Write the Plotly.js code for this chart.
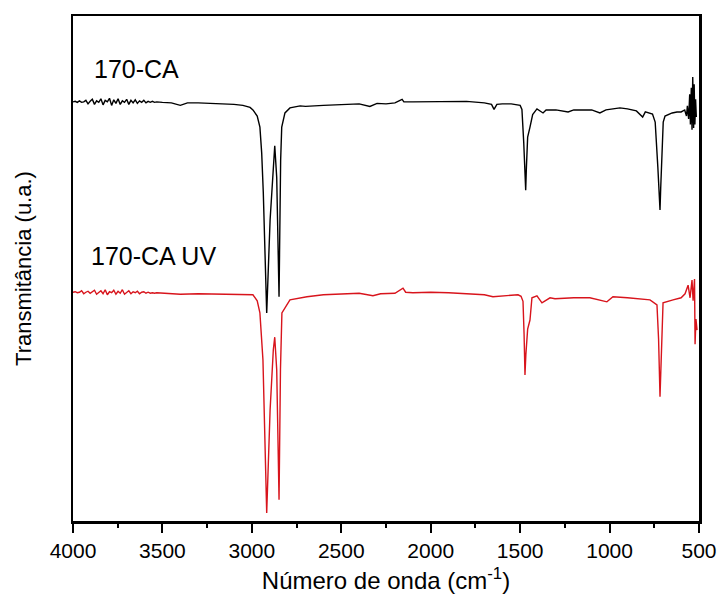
<!DOCTYPE html>
<html>
<head>
<meta charset="utf-8">
<script src="https://cdn.plot.ly/plotly-3.0.1.min.js"></script>
<style>html,body{margin:0;padding:0;background:#fff;}#chart{width:720px;height:602px;}</style>
</head>
<body>
<div id="chart"></div>
<script>
// Wavenumbers (cm-1) and transmittance (a.u.)
const waveBlack = [4000,3988,3976,3964,3952,3940,3928,3916,3904,3892,3880,3868,3856,3844,3832,3820,3808,3796,3784,3772,3760,3748,3736,3724,3712,3700,3688,3676,3664,3652,3640,3628,3616,3604,3592,3580,3568,3556,3544,3532,3500,3450,3400,3360,3300,3200,3100,3050,3010,
  2994,2970,2955,2945,2936,2927,2917,2898,2880,2872,2861,2852,2848,2839,2833,2815,2787,2730,2700,2600,2500,2400,2340,2300,2250,2200,2160,2150,2100,2000,1900,1800,1700,1660,1646,1630,1600,1550,1500,
  1490,1480,1472,1469,1465,1458,1445,1430,1406,1390,1372,1355,1300,1232,1200,1100,1054,1020,942,900,850,815,800,760,745,730,722,718,714,706,700,690,650,623,600,580,570,565,558,552,548,543,539,535,530,527,523,519,515];
const transBlack = [83.0,83.1,82.9,83.2,82.9,83.0,83.3,82.6,83.1,83.5,82.5,83.2,82.9,83.6,82.4,83.3,83.0,83.7,82.3,83.4,82.7,83.6,82.5,83.2,82.9,83.5,82.5,83.3,82.8,83.4,82.7,83.2,82.9,83.3,82.8,83.1,82.9,83.1,82.9,83.0,82.9,82.8,82.3,82.8,82.8,82.7,82.5,82.3,81.9,
  81.4,80.2,78.0,72.9,65.0,53.0,41.2,59.6,71.5,74.3,68.0,51.7,44.4,71.5,78.0,80.8,81.8,82.2,82.1,82.3,82.5,82.6,82.1,82.7,82.6,82.8,83.5,83.0,83.0,83.0,83.1,83.1,82.8,82.5,81.5,82.5,82.6,82.6,82.3,
  81.5,75.0,66.5,65.5,70.0,76.0,78.0,80.5,81.6,81.2,80.8,81.4,81.4,81.0,81.4,81.4,80.8,81.4,81.8,81.6,81.2,80.0,81.0,80.6,79.0,70.0,64.0,61.6,66.0,76.0,79.0,80.2,80.8,81.0,81.0,81.4,80.2,82.2,79.6,84.5,78.5,85.8,77.5,87.9,77.8,86.5,78.5,83.5,80.0];

const waveRed = [4000,3988,3976,3964,3952,3940,3928,3916,3904,3892,3880,3868,3856,3844,3832,3820,3808,3796,3784,3772,3760,3748,3736,3724,3712,3700,3688,3676,3664,3652,3640,3628,3616,3604,3592,3580,3568,3556,3544,3532,3500,3450,3400,3300,3200,3100,3050,3010,
  2994,2970,2955,2938,2928,2917,2898,2880,2872,2861,2852,2848,2840,2832,2787,2692,2600,2500,2400,2323,2280,2200,2155,2140,2100,2000,1948,1900,1800,1700,1652,1600,1512,
  1495,1484,1478,1473,1468,1458,1445,1434,1406,1378,1333,1305,1200,1110,1015,981,900,774,735,726,718,710,701,645,600,578,561,550,539,533,525,522,517,511];
const transRed = [45.3,45.4,45.2,45.3,45.6,45.0,45.3,45.5,45.1,45.4,45.7,44.9,45.3,45.6,45.0,45.8,44.8,45.4,45.2,45.7,44.9,45.5,45.1,45.8,44.9,45.3,45.6,45.0,45.4,45.2,45.5,45.0,45.3,45.4,45.1,45.3,45.1,45.2,45.1,45.2,45.1,45.0,44.9,45.0,44.9,44.9,44.8,44.8,
  44.8,43.6,41.2,31.9,18.6,1.6,22.0,33.9,36.4,29.9,12.1,4.2,30.0,41.2,43.8,44.4,44.8,45.0,45.1,44.6,45.0,45.1,46.1,45.3,45.2,45.3,45.3,45.2,45.0,44.8,44.4,44.6,44.8,
  44.5,43.5,37.0,28.9,33.0,38.0,39.8,44.2,44.6,43.2,44.2,44.0,44.2,44.2,43.4,44.4,44.2,43.8,42.8,36.0,24.6,33.0,43.2,43.8,44.2,45.0,46.7,44.2,47.7,43.6,47.9,35.0,40.0,37.8];

const labelBlack = "170-CA";
const labelRed = "170-CA UV";
const xTicks = [4000,3500,3000,2500,2000,1500,1000,500];

const font = "Liberation Sans, Arial, sans-serif";

const data = [
  {x: waveBlack, y: transBlack, type: "scatter", mode: "lines", name: labelBlack,
   line: {color: "#000000", width: 1.4}},
  {x: waveRed, y: transRed, type: "scatter", mode: "lines", name: labelRed,
   line: {color: "#d8141c", width: 1.4}}
];

const layout = {
  width: 720, height: 602,
  margin: {l: 73, r: 21, t: 16, b: 81},
  paper_bgcolor: "#ffffff", plot_bgcolor: "#ffffff",
  showlegend: false,
  font: {family: font, color: "#000"},
  xaxis: {
    range: [4000, 500], tickvals: xTicks, ticktext: xTicks.map(String),
    ticks: "outside", ticklen: 9, tickwidth: 2, tickcolor: "#000",
    minor: {dtick: 250, tick0: 0, ticks: "outside", ticklen: 4, tickwidth: 2, tickcolor: "#000"},
    showline: true, linecolor: "#000", linewidth: 2.5, mirror: true,
    showgrid: false, zeroline: false,
    tickfont: {family: font, size: 21, color: "#000"},
    title: {text: "Número de onda (cm<sup>-1</sup>)", font: {family: font, size: 24, color: "#000"}, standoff: 12}
  },
  yaxis: {
    range: [0, 100], showticklabels: false, ticks: "",
    showline: true, linecolor: "#000", linewidth: 2.5, mirror: true,
    showgrid: false, zeroline: false,
    title: {text: "Transmitância (u.a.)", font: {family: font, size: 22, color: "#000"}, standoff: 33}
  },
  annotations: [
    {text: labelBlack, x: 3894, y: 89.5, xref: "x", yref: "y", xanchor: "left", yanchor: "middle", showarrow: false,
     font: {family: font, size: 25, color: "#000"}},
    {text: labelRed, x: 3910, y: 52.4, xref: "x", yref: "y", xanchor: "left", yanchor: "middle", showarrow: false,
     font: {family: font, size: 25, color: "#000"}}
  ]
};

Plotly.newPlot("chart", data, layout, {displayModeBar: false, staticPlot: true});
</script>
</body>
</html>
